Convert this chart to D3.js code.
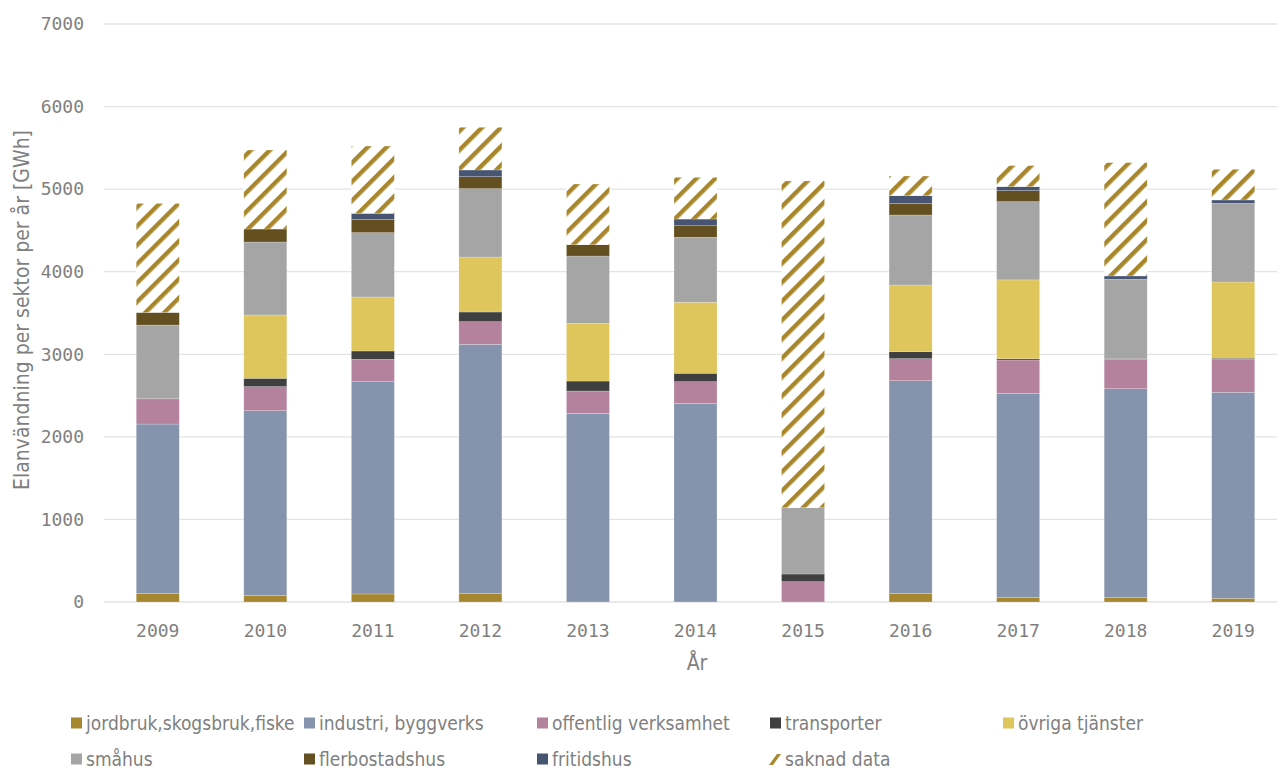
<!DOCTYPE html>
<html>
<head>
<meta charset="utf-8">
<script src="https://cdn.jsdelivr.net/npm/d3@7"></script>
<style>
  html, body { margin: 0; padding: 0; background: #fff; }
  svg { display: block; }
  .lbl { font-family: "DejaVu Sans Condensed", "DejaVu Sans", sans-serif; font-stretch: condensed; fill: #7f7f7f; }
  .num { font-family: "DejaVu Sans Mono", monospace; fill: #7f7f7f; }
</style>
</head>
<body>
<svg id="chart" width="1277" height="771"></svg>
<script>
// Elanvändning per sektor och år (GWh)
const years = ["2009","2010","2011","2012","2013","2014","2015","2016","2017","2018","2019"];

const jordbruk   = [105,   77,   97,  105,    0,    0,    0,  105,   57,   57,   45];
const industri   = [2050, 2240, 2571, 3016, 2285, 2406,    0, 2575, 2471, 2526, 2495];
const offentlig  = [306,  291,  271,  274,  270,  262,  246,  267,  403,  356,  403];
const transport  = [0,    101,  101,  117,  121,  102,   93,   84,   15,    5,   10];
const ovriga     = [0,    767,  654,  666,  699,  860,    0,  808,  955,    0,  922];
const smahus     = [893,  884,  779,  828,  815,  787,  803,  848,  948,  965,  953];
const flerbostad = [153,  157,  162,  145,  137,  140,    0,  141,  133,    0,    0];
const fritidshus = [0,      0,   72,   81,    0,   81,    0,   93,   49,   40,   41];
const saknad     = [1320, 957,  815,  517,  735,  505, 3957,  238,  254, 1372,  371];

const yTicks = [0, 1000, 2000, 3000, 4000, 5000, 6000, 7000];

const series = [
  { key: "jordbruk",   name: "jordbruk,skogsbruk,fiske", values: jordbruk,   color: "#a6862f" },
  { key: "industri",   name: "industri, byggverks",      values: industri,   color: "#8593ad" },
  { key: "offentlig",  name: "offentlig verksamhet",     values: offentlig,  color: "#b5829e" },
  { key: "transport",  name: "transporter",              values: transport,  color: "#3f3f3f" },
  { key: "ovriga",     name: "övriga tjänster",          values: ovriga,     color: "#dec55c" },
  { key: "smahus",     name: "småhus",                   values: smahus,     color: "#a5a5a5" },
  { key: "flerbostad", name: "flerbostadshus",           values: flerbostad, color: "#634f1f" },
  { key: "fritidshus", name: "fritidshus",               values: fritidshus, color: "#475572" },
  { key: "saknad",     name: "saknad data",              values: saknad,     color: "url(#stripes)" }
];

const rows = years.map((y, i) => {
  const r = { year: y };
  series.forEach(s => { r[s.key] = s.values[i]; });
  return r;
});

const svg = d3.select("#chart");

// hatched fill for missing data
const defs = svg.append("defs");
const pat = defs.append("pattern")
  .attr("id", "stripes")
  .attr("patternUnits", "userSpaceOnUse")
  .attr("width", 13.4).attr("height", 13.4)
  .attr("patternTransform", "rotate(45)");
pat.append("rect").attr("width", 13.4).attr("height", 13.4).attr("fill", "#fff");
pat.append("rect").attr("x", 0).attr("y", 0).attr("width", 4.4).attr("height", 13.4).attr("fill", "#a8872c");

const plotLeft = 104, plotRight = 1277;
const x = d3.scaleBand().domain(years).range([104, 1287]).paddingInner(0.6).paddingOuter(0.3);
const y = d3.scaleLinear().domain([0, 7000]).range([602, 24]);

// gridlines
svg.append("g").selectAll("line").data(yTicks).join("line")
  .attr("x1", plotLeft).attr("x2", plotRight)
  .attr("y1", d => y(d)).attr("y2", d => y(d))
  .attr("stroke", "#e3e3e3").attr("stroke-width", 1.3);

// y axis labels
const yAxis = svg.append("g").attr("transform", "translate(84,0)")
  .call(d3.axisLeft(y).tickValues(yTicks).tickSize(0).tickPadding(0).tickFormat(d3.format("d")));
yAxis.select(".domain").remove();
yAxis.selectAll("text").attr("class", "num").attr("font-size", 18).attr("fill", "#7f7f7f");

// x axis labels
const xAxis = svg.append("g").attr("transform", "translate(0,624)")
  .call(d3.axisBottom(x).tickSize(0).tickPadding(0));
xAxis.select(".domain").remove();
xAxis.selectAll("text").attr("class", "num").attr("font-size", 18).attr("fill", "#7f7f7f");

// stacked bars
const stacked = d3.stack().keys(series.map(s => s.key))(rows);
svg.append("g").selectAll("g").data(stacked).join("g")
  .attr("fill", (d, i) => series[i].color)
  .selectAll("rect").data(d => d).join("rect")
  .attr("x", d => x(d.data.year))
  .attr("width", x.bandwidth())
  .attr("y", d => y(d[1]))
  .attr("height", d => Math.max(0, y(d[0]) - y(d[1])))
  .attr("stroke", "rgba(255,255,255,0.35)")
  .attr("stroke-width", d => (d[1] - d[0]) > 0 ? 0.6 : 0);

// axis titles
svg.append("text").attr("class", "lbl")
  .attr("x", 697).attr("y", 670).attr("text-anchor", "middle")
  .attr("font-size", 21).text("År");

svg.append("text").attr("class", "lbl")
  .attr("transform", "translate(29,310) rotate(-90)")
  .attr("text-anchor", "middle").attr("font-size", 21)
  .text("Elanvändning per sektor per år [GWh]");

// legend
const legendCols = [71, 304, 537, 770, 1003];
const legendRows = [723, 759];
const leg = svg.append("g").selectAll("g").data(series).join("g")
  .attr("transform", (d, i) => `translate(${legendCols[i % 5]},${legendRows[Math.floor(i / 5)]})`);
leg.each(function(d) {
  const g = d3.select(this);
  if (d.key === "saknad") {
    g.append("path").attr("d", "M-1,6 L7,-5 L11,-5 L3,6 Z").attr("fill", "#a8872c");
  } else {
    g.append("rect").attr("x", 0).attr("y", -5.5).attr("width", 11).attr("height", 11).attr("fill", d.color);
  }
});
leg.append("text").attr("class", "lbl")
  .attr("x", 15).attr("y", 0).attr("dy", "0.35em")
  .attr("font-size", 19).text(d => d.name);
</script>
</body>
</html>
